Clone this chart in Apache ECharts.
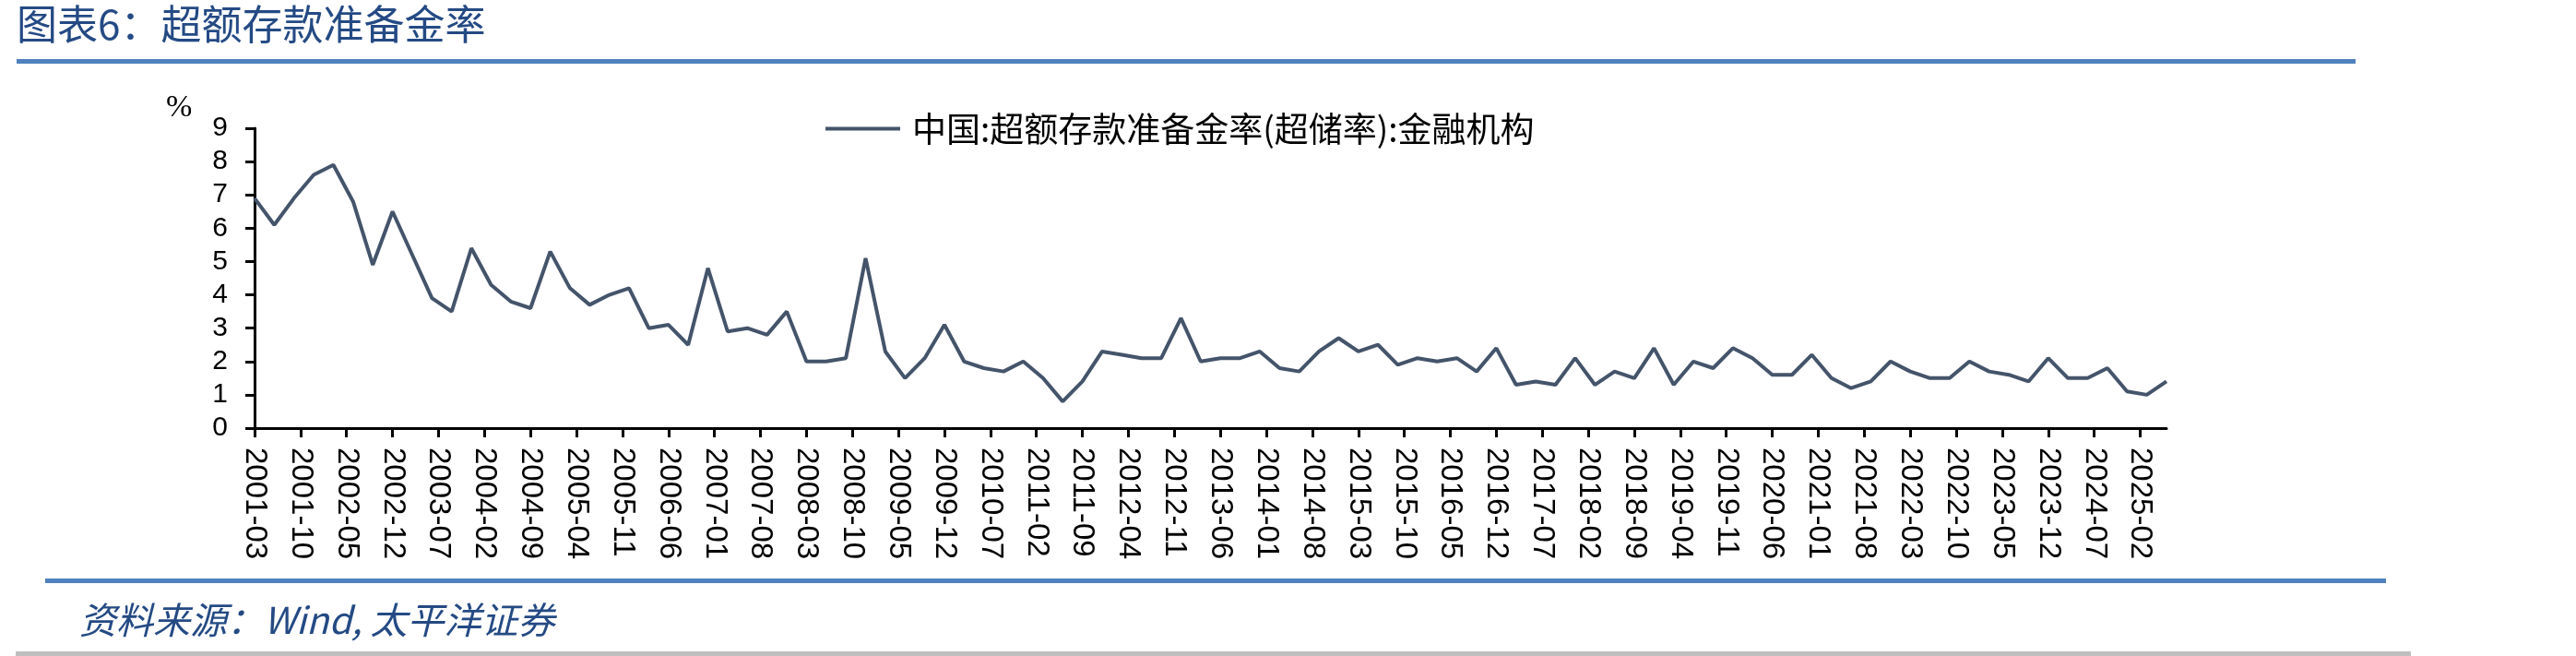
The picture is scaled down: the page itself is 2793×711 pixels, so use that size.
<!DOCTYPE html>
<html>
<head>
    <meta charset="utf-8">
    <title>超额存款准备金率</title>
    <script src="https://cdn.jsdelivr.net/npm/echarts@6/dist/echarts.min.js"></script>
    <style>
        html, body { margin: 0; padding: 0; background: #fff; }
        #chart { width: 2793px; height: 711px; }
    </style>
</head>
<body>
<div id="chart"></div>
<script>
    // 季度数据 2001-03 ~ 2025-06，单位 %
    var startYear = 2001, startMonth = 3;
    var endYear = 2025, endMonth = 6;
    var seriesName = '中国:超额存款准备金率(超储率):金融机构';
    var excessRatio = [
        6.9, 6.1, 6.9, 7.6, 7.9, 6.8, 4.9, 6.5, 5.2, 3.9,
        3.5, 5.4, 4.3, 3.8, 3.6, 5.3, 4.2, 3.7, 4.0, 4.2,
        3.0, 3.1, 2.5, 4.8, 2.9, 3.0, 2.8, 3.5, 2.0, 2.0,
        2.1, 5.1, 2.3, 1.5, 2.1, 3.1, 2.0, 1.8, 1.7, 2.0,
        1.5, 0.8, 1.4, 2.3, 2.2, 2.1, 2.1, 3.3, 2.0, 2.1,
        2.1, 2.3, 1.8, 1.7, 2.3, 2.7, 2.3, 2.5, 1.9, 2.1,
        2.0, 2.1, 1.7, 2.4, 1.3, 1.4, 1.3, 2.1, 1.3, 1.7,
        1.5, 2.4, 1.3, 2.0, 1.8, 2.4, 2.1, 1.6, 1.6, 2.2,
        1.5, 1.2, 1.4, 2.0, 1.7, 1.5, 1.5, 2.0, 1.7, 1.6,
        1.4, 2.1, 1.5, 1.5, 1.8, 1.1, 1.0, 1.4
    ];

    function pad(m) { return m < 10 ? '0' + m : '' + m; }
    // 月度类目轴（每7个月一个刻度）
    var months = [];
    for (var y = startYear, m = startMonth; y < endYear || (y == endYear && m <= endMonth); ) {
        months.push(y + '-' + pad(m));
        m++;
        if (m > 12) { m = 1; y++; }
    }
    // 季度点放到对应月份上
    var points = [];
    for (var i = 0; i < excessRatio.length; i++) {
        points.push([months[i * 3], excessRatio[i]]);
    }

    var blue = '#4F81BD';
    var myChart = echarts.init(document.getElementById('chart'));
    var option = {
        backgroundColor: '#fff',
        animation: false,
        grid: { left: 276, top: 139, right: 444, bottom: 247 },
        legend: {
            left: 890,
            top: 116,
            itemWidth: 81,
            itemHeight: 4,
            textStyle: {
                fontFamily: 'Noto Sans CJK SC',
                fontSize: 37,
                color: '#000',
                padding: [0, 0, 0, 8]
            },
            data: [{ name: seriesName, icon: 'rect', itemStyle: { color: '#44546A' } }]
        },
        xAxis: {
            type: 'category',
            data: months,
            boundaryGap: false,
            axisLine: { lineStyle: { color: '#000', width: 3 } },
            axisTick: { interval: 6, length: 10, lineStyle: { color: '#000', width: 3 } },
            axisLabel: {
                interval: 6,
                rotate: -90,
                margin: 21,
                fontFamily: 'Liberation Sans',
                fontSize: 33,
                color: '#000'
            },
            splitLine: { show: false }
        },
        yAxis: {
            type: 'value',
            min: 0,
            max: 9,
            interval: 1,
            axisLine: { show: true, lineStyle: { color: '#000', width: 3 } },
            axisTick: { show: true, length: 10, lineStyle: { color: '#000', width: 3 } },
            axisLabel: {
                margin: 29,
                fontFamily: 'Liberation Sans',
                fontSize: 30,
                color: '#000'
            },
            splitLine: { show: false }
        },
        series: [{
            name: seriesName,
            type: 'line',
            symbol: 'none',
            data: points,
            lineStyle: { color: '#44546A', width: 4 },
            itemStyle: { color: '#44546A' }
        }],
        graphic: [
            {
                type: 'text', left: 18, top: 4,
                style: { text: '图表6：超额存款准备金率', fill: '#244A84', font: '44px "Noto Sans CJK SC"' }
            },
            {
                type: 'rect', shape: { x: 18, y: 64, width: 2536, height: 5 },
                style: { fill: blue }
            },
            {
                type: 'text', left: 180, top: 100,
                style: { text: '%', fill: '#000', font: '34px "Liberation Serif"' }
            },
            {
                type: 'rect', shape: { x: 49, y: 627, width: 2538, height: 5 },
                style: { fill: blue }
            },
            {
                type: 'text', left: 86, top: 652,
                style: { text: '资料来源：Wind, 太平洋证券', fill: '#244A84', font: 'italic 40px "Noto Sans CJK SC"' }
            },
            {
                type: 'rect', shape: { x: 17, y: 706, width: 2597, height: 5 },
                style: { fill: '#BFBFBF' }
            }
        ]
    };
    myChart.setOption(option);
</script>
</body>
</html>
